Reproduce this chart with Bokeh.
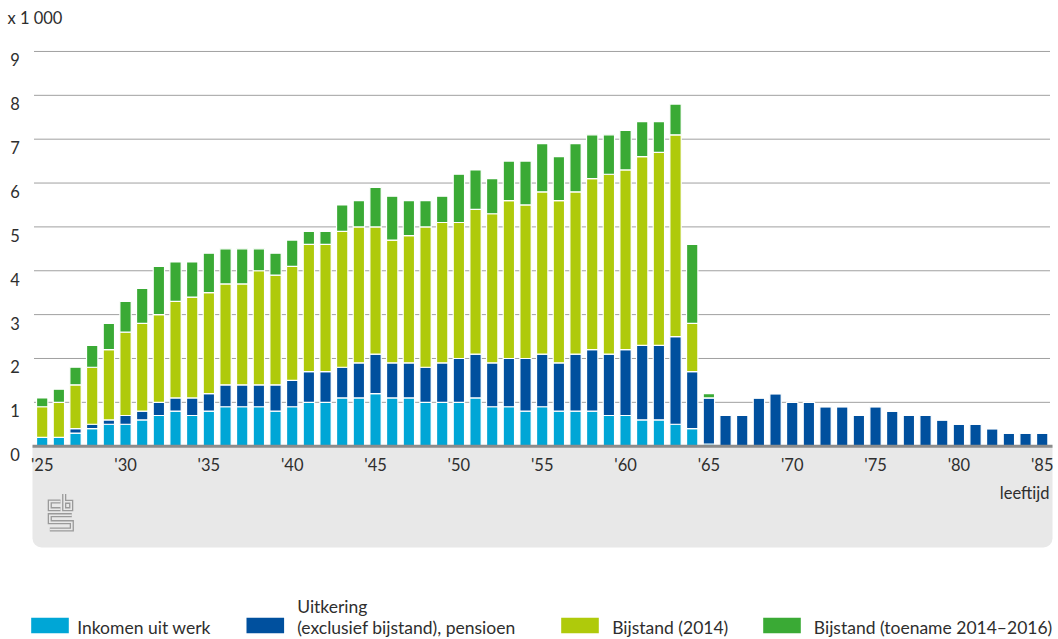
from bokeh.plotting import figure
from bokeh.models import BoxAnnotation
from bokeh.core.properties import value
from bokeh.embed import file_html
from bokeh.resources import INLINE

# ---------------- data ----------------
ages = list(range(25, 86))
inkomen = [0.2, 0.2, 0.3, 0.4, 0.5, 0.5, 0.6, 0.7, 0.8, 0.7, 0.8, 0.9, 0.9, 0.9, 0.8,
           0.9, 1.0, 1.0, 1.1, 1.1, 1.2, 1.1, 1.1, 1.0, 1.0, 1.0, 1.1, 0.9, 0.9, 0.8,
           0.9, 0.8, 0.8, 0.8, 0.7, 0.7, 0.6, 0.6, 0.5, 0.4, 0.05] + [0] * 20
uitkering = [0, 0, 0.1, 0.1, 0.1, 0.2, 0.2, 0.3, 0.3, 0.4, 0.4, 0.5, 0.5, 0.5, 0.6,
             0.6, 0.7, 0.7, 0.7, 0.8, 0.9, 0.8, 0.8, 0.8, 0.9, 1.0, 1.0, 1.0, 1.1, 1.2,
             1.2, 1.1, 1.3, 1.4, 1.4, 1.5, 1.7, 1.7, 2.0, 1.3, 1.05,
             0.7, 0.7, 1.1, 1.2, 1.0, 1.0, 0.9, 0.9, 0.7, 0.9, 0.8, 0.7, 0.7, 0.6,
             0.5, 0.5, 0.4, 0.3, 0.3, 0.3]
bijstand_2014 = [0.7, 0.8, 1.0, 1.3, 1.6, 1.9, 2.0, 2.0, 2.2, 2.3, 2.3, 2.3, 2.3, 2.6, 2.5,
                 2.6, 2.9, 2.9, 3.1, 3.1, 2.9, 2.8, 2.9, 3.2, 3.2, 3.1, 3.3, 3.4, 3.6, 3.5,
                 3.7, 3.7, 3.7, 3.9, 4.1, 4.1, 4.3, 4.4, 4.6, 1.1, 0] + [0] * 20
bijstand_toename = [0.2, 0.3, 0.4, 0.5, 0.6, 0.7, 0.8, 1.1, 0.9, 0.8, 0.9, 0.8, 0.8, 0.5, 0.5,
                    0.6, 0.3, 0.3, 0.6, 0.6, 0.9, 1.0, 0.8, 0.6, 0.6, 1.1, 0.9, 0.8, 0.9, 1.0,
                    1.1, 1.0, 1.1, 1.0, 0.9, 0.9, 0.8, 0.7, 0.7, 1.8, 0.1] + [0] * 20
series = ["inkomen", "uitkering", "bijstand_2014", "bijstand_toename"]
labels = ["Inkomen uit werk", "Uitkering\n(exclusief bijstand), pensioen",
          "Bijstand (2014)", "Bijstand (toename 2014\u20132016)"]
colors = ["#00a6d6", "#00509e", "#afca0b", "#3aaa35"]
y_ticks = list(range(0, 10))
x_ticks = list(range(25, 86, 5))
x_tick_labels = ["'%d" % (a % 100) for a in x_ticks]

# ---------------- geometry ----------------
W, H = 1058, 639
OFF = 0                    # canvas offset on the page
X0, DX = 41.7, 16.667      # page x of first bar, px per year
Y0, DY = 445.7, 43.86      # page y of value 0, px per unit


def px(page_x):
    return 25 + (page_x - X0) / DX


def py(page_y):
    return (Y0 - page_y) / DY


FONT = value("Lato")
TXT = "#2e2e2e"

p = figure(width=W, height=H, output_backend="svg", toolbar_location=None,
           x_range=(px(OFF), px(OFF + W)), y_range=(py(OFF + H), py(OFF)),
           min_border=0, x_axis_type=None, y_axis_type=None)
p.outline_line_color = None
p.xgrid.visible = False
p.ygrid.visible = False
p.background_fill_color = "white"

# grey band below the axis
band = BoxAnnotation(left=px(32), right=px(1052), top=0, bottom=py(547),
                     fill_color="#e8e8e8", fill_alpha=1.0, line_color=None,
                     border_radius=(0, 0, 9, 9), level="underlay")
p.add_layout(band)

# gridlines
for t in y_ticks[1:]:
    p.segment(x0=px(33.5), x1=px(1049.5), y0=t, y1=t, line_color="#a0a0a0", line_width=1)

# bars
data = dict(ages=ages, inkomen=inkomen, uitkering=uitkering,
            bijstand_2014=bijstand_2014, bijstand_toename=bijstand_toename)
p.vbar_stack(series, x="ages", width=0.68, source=data, color=colors,
             line_color="white", line_width=1.2)

# axis line
p.segment(x0=px(32), x1=px(1052), y0=0, y1=0, line_color="#8c8c8c", line_width=3)

# y tick labels
p.text(x=[px(14.5)] * len(y_ticks), y=[t - 8.5 / DY for t in y_ticks],
       text=[str(t) for t in y_ticks], text_font=FONT, text_font_size="16.5px",
       text_align="center", text_baseline="middle", text_color=TXT)
p.text(x=[px(7)], y=[py(17.5)], text=["x 1 000"], text_font=FONT, text_font_size="16.5px",
       text_align="left", text_baseline="middle", text_color=TXT)

# x tick labels
p.text(x=x_ticks, y=[py(464.5)] * len(x_ticks), text=x_tick_labels, text_font=FONT,
       text_font_size="16.5px", text_align="center", text_baseline="middle", text_color=TXT)
p.text(x=[px(1049)], y=[py(492.5)], text=["leeftijd"], text_font=FONT, text_font_size="16.5px",
       text_align="right", text_baseline="middle", text_color=TXT)

# cbs logo (simplified)
logo_xs = [[60, 49.3, 49.3, 60], [63.7, 63.7, 70.7, 70.7, 63.7],
           [71.3, 49.3, 49.3, 71.3, 71.3, 49.3]]
logo_ys = [[501, 501, 508.7, 508.7], [493.5, 508.7, 508.7, 501.3, 501.3],
           [514.7, 514.7, 521.7, 521.7, 529, 529]]
lx = [[px(v) for v in xs] for xs in logo_xs]
ly = [[py(v) for v in ys] for ys in logo_ys]
p.multi_line(xs=lx, ys=ly, line_color="#9a9a9a", line_width=4.2, line_join="miter")
p.multi_line(xs=lx, ys=ly, line_color="#e8e8e8", line_width=1.6, line_join="miter")

# legend
sw_left = [30.7, 246, 560.7, 762.7]
txt_left = [76.7, 296.7, 611.7, 813.3]
sw_top, sw_bot = 617.3, 632.7
for i in range(4):
    p.quad(left=px(sw_left[i]), right=px(sw_left[i] + 37.6), top=py(sw_top), bottom=py(sw_bot),
           fill_color=colors[i], line_color=None)
    parts = labels[i].split("\n")
    if len(parts) == 1:
        p.text(x=[px(txt_left[i])], y=[py(626.5)], text=[parts[0]], text_font=FONT,
               text_font_size="17.5px", text_align="left", text_baseline="middle", text_color=TXT)
    else:
        p.text(x=[px(txt_left[i])] * 2, y=[py(605.5), py(626.5)], text=parts, text_font=FONT,
               text_font_size="17.5px", text_align="left", text_baseline="middle", text_color=TXT)

open("out.html", "w").write(file_html(p, INLINE))
